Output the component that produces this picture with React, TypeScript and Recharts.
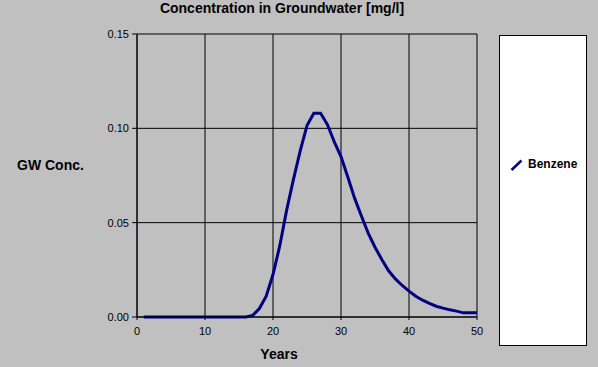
import React from "react";
import { LineChart, Line, XAxis, YAxis, CartesianGrid, Legend } from "recharts";

// years 1..50, benzene concentration in groundwater [mg/l]
const years = [
  1, 2, 3, 4, 5, 6, 7, 8, 9, 10, 11, 12, 13, 14, 15, 16, 17, 18, 19, 20, 21, 22, 23, 24, 25,
  26, 27, 28, 29, 30, 31, 32, 33, 34, 35, 36, 37, 38, 39, 40, 41, 42, 43, 44, 45, 46, 47, 48, 49, 50,
];
const benzene = [
  0, 0, 0, 0, 0, 0, 0, 0, 0, 0, 0, 0, 0, 0, 0, 0, 0.0008, 0.0045, 0.011, 0.0225, 0.0378, 0.0565,
  0.0728, 0.088, 0.1015, 0.108, 0.108, 0.102, 0.093, 0.085, 0.0742, 0.063, 0.0535, 0.0445, 0.037,
  0.0305, 0.0245, 0.0202, 0.0167, 0.0137, 0.011, 0.0089, 0.0072, 0.0057, 0.0047, 0.0038, 0.0031,
  0.0022, 0.0022, 0.0022,
];
const xTicks = [0, 10, 20, 30, 40, 50];
const yTicks = [0, 0.05, 0.1, 0.15];

const data = years.map((y, i) => ({ year: y, benzene: benzene[i] }));

const FONT = "'Liberation Sans', Arial, sans-serif";
const NAVY = "#000080";

const LegendBox = () => (
  <div style={{ width: 86, height: 309, background: "#fff", border: "1px solid #000", position: "relative", fontFamily: FONT }}>
    <svg width={14} height={13} style={{ position: "absolute", left: 10, top: 123 }}>
      <line x1={1.5} y1={11} x2={11.5} y2={1.5} stroke={NAVY} strokeWidth={2.5} />
    </svg>
    <span style={{ position: "absolute", left: 28, top: 121, fontSize: 12, fontWeight: "bold", color: "#000" }}>Benzene</span>
  </div>
);

export default function App() {
  return (
    <div style={{ position: "absolute", left: 0, top: 0, width: 598, height: 367, background: "#c0c0c0", fontFamily: FONT }}>
      <div style={{ position: "absolute", left: 0, width: 564, top: 0, textAlign: "center", fontSize: 14, fontWeight: "bold" }}>
        Concentration in Groundwater [mg/l]
      </div>
      <div style={{ position: "absolute", left: 17, top: 157, fontSize: 14, fontWeight: "bold" }}>GW Conc.</div>
      <div style={{ position: "absolute", left: 179, width: 200, top: 346, textAlign: "center", fontSize: 14, fontWeight: "bold" }}>
        Years
      </div>
      <LineChart width={598} height={367} data={data} margin={{ top: 34, right: 121, bottom: 20, left: 97 }}>
        <CartesianGrid stroke="#000" strokeWidth={1} horizontalValues={yTicks} verticalValues={xTicks} />
        <XAxis
          dataKey="year"
          type="number"
          domain={[0, 50]}
          ticks={xTicks}
          height={30}
          tickSize={3}
          tickMargin={7}
          axisLine={{ stroke: "#000" }}
          tickLine={{ stroke: "#000" }}
          tick={{ fontSize: 11, fill: "#000", fontFamily: FONT }}
        />
        <YAxis
          type="number"
          domain={[0, 0.15]}
          ticks={yTicks}
          width={40}
          tickSize={5}
          tickMargin={3}
          tickFormatter={(v: number) => v.toFixed(2)}
          axisLine={{ stroke: "#000" }}
          tickLine={{ stroke: "#000" }}
          tick={{ fontSize: 11, fill: "#000", fontFamily: FONT }}
        />
        <Legend
          layout="vertical"
          align="center"
          verticalAlign="middle"
          content={() => <LegendBox />}
          wrapperStyle={{ left: 499, top: 35, width: 88, height: 311 }}
        />
        <Line
          type="linear"
          dataKey="benzene"
          name="Benzene"
          stroke={NAVY}
          strokeWidth={3}
          dot={false}
          isAnimationActive={false}
        />
      </LineChart>
    </div>
  );
}
